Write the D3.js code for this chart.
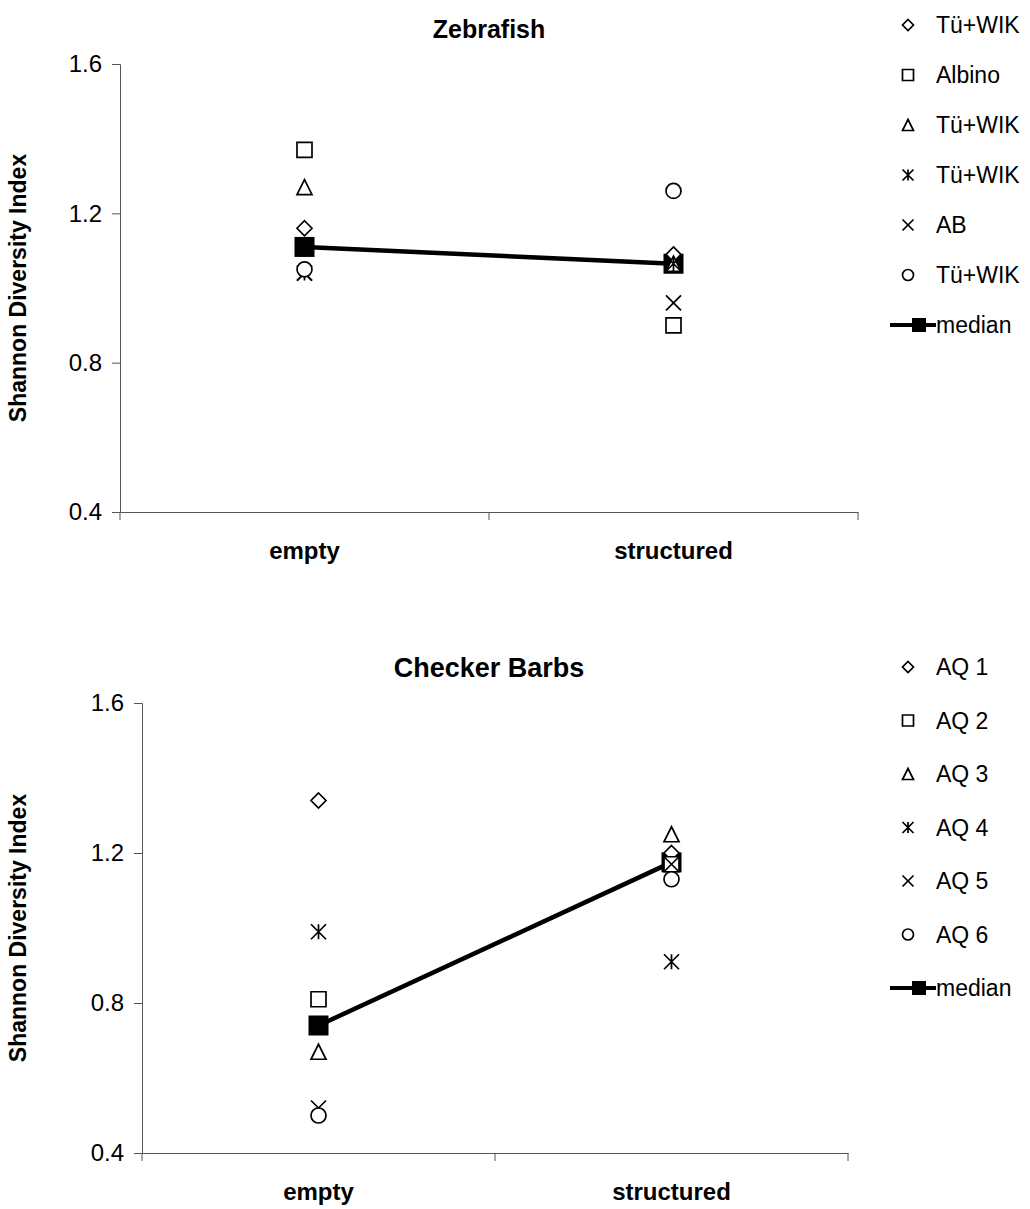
<!DOCTYPE html>
<html>
<head>
<meta charset="utf-8">
<script src="https://cdn.jsdelivr.net/npm/d3@7"></script>
<style>
  body { margin: 0; background: #fff; }
  svg { font-family: Arial, "Liberation Sans", sans-serif; }
</style>
</head>
<body>
<script>
// values
var conditions = ["empty", "structured"];
var yTicks = [0.4, 0.8, 1.2, 1.6];
var shapes = ["diamond", "square", "triangle", "asterisk", "cross", "circle"];

var zebraNames = ["Tü+WIK", "Albino", "Tü+WIK", "Tü+WIK", "AB", "Tü+WIK"];
var zebraEmpty = [1.16, 1.37, 1.27, 1.04, 1.04, 1.05];
var zebraStructured = [1.09, 0.90, 1.065, 1.065, 0.96, 1.26];
var zebraMedian = [1.11, 1.065];

var barbNames = ["AQ 1", "AQ 2", "AQ 3", "AQ 4", "AQ 5", "AQ 6"];
var barbEmpty = [1.34, 0.81, 0.67, 0.99, 0.52, 0.50];
var barbStructured = [1.20, 1.17, 1.25, 0.91, 1.17, 1.13];
var barbMedian = [0.74, 1.175];

var svg = d3.select("body").append("svg")
  .attr("width", 1030)
  .attr("height", 1209);

function markerPath(shape, s) {
  var h = s / 2;
  if (shape == "diamond") return "M0," + (-h) + "L" + h + ",0L0," + h + "L" + (-h) + ",0Z";
  if (shape == "square") return "M" + (-h) + "," + (-h) + "h" + s + "v" + s + "h" + (-s) + "Z";
  if (shape == "triangle") return "M0," + (-h) + "L" + h + "," + h + "L" + (-h) + "," + h + "Z";
  if (shape == "cross") return "M" + (-h) + "," + (-h) + "L" + h + "," + h + "M" + h + "," + (-h) + "L" + (-h) + "," + h;
  if (shape == "asterisk") return "M" + (-h) + "," + (-h) + "L" + h + "," + h + "M" + h + "," + (-h) + "L" + (-h) + "," + h + "M0," + (-h) + "L0," + h;
  return d3.symbol(d3.symbolCircle, Math.PI * h * h)();
}

function drawPanel(p) {
  var g = svg.append("g");

  var x = d3.scaleBand().domain(conditions).range([p.left, p.right]);
  var y = d3.scaleLinear().domain([0.4, 1.6]).range([p.bottom, p.top]);

  g.append("text")
    .attr("x", 489)
    .attr("y", p.top - 26)
    .attr("text-anchor", "middle")
    .attr("font-size", p.titleSize)
    .attr("font-weight", "bold")
    .text(p.title);

  var yAxis = g.append("g")
    .attr("transform", "translate(" + p.left + ",0)")
    .call(d3.axisLeft(y).tickValues(yTicks).tickFormat(d3.format(".1f")).tickSize(8).tickPadding(10));
  yAxis.selectAll("text").attr("font-size", 24).attr("fill", "#000");
  yAxis.selectAll("line, path").attr("stroke", "#555");

  var xAxis = g.append("g")
    .attr("transform", "translate(0," + p.bottom + ")")
    .call(d3.axisBottom(x).tickSize(0).tickPadding(30));
  xAxis.selectAll("text").attr("font-size", 24).attr("font-weight", "bold").attr("fill", "#000");
  xAxis.select("path").attr("stroke", "#555");
  // excel puts the x ticks between the categories
  xAxis.selectAll(".edge").data([p.left, (p.left + p.right) / 2, p.right]).enter()
    .append("line")
    .attr("x1", function (d) { return d; })
    .attr("x2", function (d) { return d; })
    .attr("y1", 0).attr("y2", 8)
    .attr("stroke", "#555");

  g.append("text")
    .attr("transform", "translate(" + p.titleX + "," + ((p.top + p.bottom) / 2) + ") rotate(-90)")
    .attr("text-anchor", "middle")
    .attr("font-size", 23)
    .attr("font-weight", "bold")
    .text("Shannon Diversity Index");

  // median line and squares go underneath the strain markers
  var medPts = conditions.map(function (c, i) { return [x(c) + x.bandwidth() / 2, y(p.median[i])]; });
  g.append("path")
    .attr("d", d3.line()(medPts))
    .attr("fill", "none")
    .attr("stroke", "#000")
    .attr("stroke-width", 4.5);

  g.selectAll(".med").data(medPts).enter()
    .append("rect")
    .attr("x", function (d) { return d[0] - 10; })
    .attr("y", function (d) { return d[1] - 10; })
    .attr("width", 20).attr("height", 20)
    .attr("fill", "#000");

  [p.empty, p.structured].forEach(function (vals, ci) {
    g.selectAll(".m" + ci).data(vals).enter()
      .append("path")
      .attr("transform", function (d) {
        return "translate(" + (x(conditions[ci]) + x.bandwidth() / 2) + "," + y(d) + ")";
      })
      .attr("d", function (d, i) { return markerPath(shapes[i], 15); })
      .attr("fill", function (d, i) { return (shapes[i] == "cross" || shapes[i] == "asterisk") ? "none" : "#fff"; })
      .attr("stroke", "#000")
      .attr("stroke-width", 1.7);
  });

  // legend
  var leg = g.selectAll(".leg").data(p.names).enter()
    .append("g")
    .attr("transform", function (d, i) { return "translate(" + p.legX + "," + (p.legY + i * p.legStep) + ")"; });
  leg.append("path")
    .attr("d", function (d, i) { return markerPath(shapes[i], 11); })
    .attr("fill", "none")
    .attr("stroke", "#000")
    .attr("stroke-width", 1.7);
  leg.append("text")
    .attr("x", 28)
    .attr("dy", "0.35em")
    .attr("font-size", 23)
    .text(function (d) { return d; });

  var my = p.legY + 6 * p.legStep;
  g.append("line")
    .attr("x1", p.legX - 18).attr("x2", p.legX + 28)
    .attr("y1", my).attr("y2", my)
    .attr("stroke", "#000").attr("stroke-width", 4);
  g.append("rect")
    .attr("x", p.legX + 4).attr("y", my - 7)
    .attr("width", 14).attr("height", 14)
    .attr("fill", "#000");
  g.append("text")
    .attr("x", p.legX + 28)
    .attr("y", my)
    .attr("dy", "0.35em")
    .attr("font-size", 23)
    .text("median");
}

drawPanel({
  title: "Zebrafish", names: zebraNames, titleSize: 25,
  empty: zebraEmpty, structured: zebraStructured, median: zebraMedian,
  left: 120, right: 858, top: 64, bottom: 512, titleX: 26,
  legX: 908, legY: 25, legStep: 50
});

drawPanel({
  title: "Checker Barbs", names: barbNames, titleSize: 27,
  empty: barbEmpty, structured: barbStructured, median: barbMedian,
  left: 142, right: 848, top: 703, bottom: 1153, titleX: 26,
  legX: 908, legY: 667, legStep: 53.5
});
</script>
</body>
</html>
